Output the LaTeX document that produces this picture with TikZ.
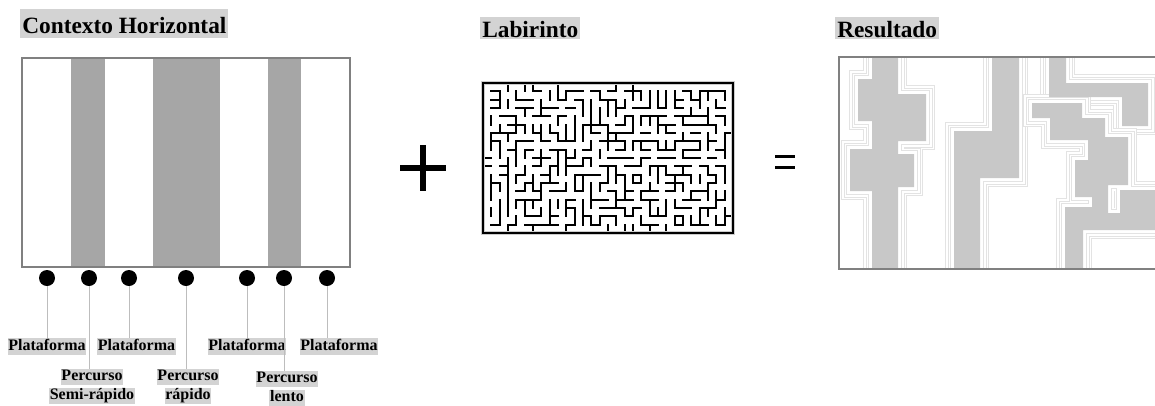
\documentclass[tikz,border=0pt]{standalone}
\usepackage{fontspec}
\setmainfont{Liberation Serif}
\usepackage{tikz}
\usetikzlibrary{calc}
\definecolor{realce}{HTML}{D3D3D3}
\definecolor{faixacor}{HTML}{A6A6A6}
\definecolor{moldura}{HTML}{808080}
\definecolor{mancha}{HTML}{C8C8C8}
\definecolor{halocor}{HTML}{E3E3E3}
\definecolor{hastecor}{HTML}{BDBDBD}
\newcommand{\marca}[1]{{\setlength{\fboxsep}{0.5pt}\colorbox{realce}{\rule[-3pt]{0pt}{10.5pt}#1}}}
\newcommand{\contorno}[1]{%
  \draw[halocor, line width=13.5pt] #1;
  \draw[white, line width=12pt] #1;
  \draw[halocor, line width=9.75pt] #1;
  \draw[white, line width=8.25pt] #1;
  \draw[halocor, line width=6pt] #1;
  \draw[white, line width=4.5pt] #1;}
\def\formaA{(872,57) -- (898,57) -- (898,94) -- (926,94) -- (926,141) -- (898,141) -- (898,154) -- (914,154) -- (914,187) -- (898,187) -- (898,272) -- (872,272) -- (872,191) -- (850,191) -- (850,149) -- (872,149) -- (872,121) -- (858,121) -- (858,79) -- (872,79) -- cycle}
\def\formaB{(992,57) -- (1019,57) -- (1019,178) -- (980,178) -- (980,272) -- (954,272) -- (954,131) -- (992,131) -- cycle}
\def\formaC{(1049,57) -- (1066,57) -- (1066,83) -- (1148,83) -- (1148,126) -- (1122,126) -- (1122,97) -- (1049,97) -- cycle}
\def\formaD{(1032,103) -- (1082,103) -- (1082,118) -- (1105,118) -- (1105,137) -- (1128,137) -- (1128,185) -- (1108,185) -- (1108,213) -- (1120,213) -- (1120,190) -- (1160,190) -- (1160,230) -- (1083,230) -- (1083,272) -- (1065,272) -- (1065,207) -- (1092,207) -- (1092,197) -- (1075,197) -- (1075,160) -- (1088,160) -- (1088,140) -- (1050,140) -- (1050,118) -- (1032,118) -- cycle}

\begin{document}
\begin{tikzpicture}[x=0.75pt,y=-0.75pt,
  titulo/.style={fill=realce, font=\bfseries\fontsize{17.5}{20}\selectfont, inner xsep=1.5pt, inner ysep=1pt, text height=14pt, text depth=0.5pt, anchor=base west},
  rotulo/.style={font=\bfseries\fontsize{12}{14.25}\selectfont, align=center, inner sep=0pt, anchor=north},
  ponto/.style={circle, fill=black, inner sep=0pt, minimum size=12pt},
  haste/.style={draw=hastecor, line width=0.75pt},
  parede/.style={line width=1.6pt, line cap=rect}]
\useasboundingbox (0,0) rectangle (1155,405);

\node[titulo, text height=17pt, text depth=2.75pt] (contexto) at (20,33) {Contexto Horizontal};
\node[titulo] (labirinto) at (480,37) {Labirinto};
\node[titulo] (resultado) at (835,37) {Resultado};

\fill[faixacor] (71,58) rectangle (105,267);
\fill[faixacor] (153,58) rectangle (220,267);
\fill[faixacor] (268,58) rectangle (301,267);
\draw[moldura, line width=1.5pt] (22,58) rectangle (350,267);

\foreach \x [count=\n] in {47,89,129,186,247,284,327}
  \node[ponto] (p\n) at (\x,278) {};

\node[rotulo] (l1) at (47,338) {\marca{Plataforma}};
\node[rotulo] (l2) at (92,369) {\marca{Percurso}\\\marca{Semi-rápido}};
\node[rotulo] (l3) at (136.5,338) {\marca{Plataforma}};
\node[rotulo] (l4) at (188,369) {\marca{Percurso}\\\marca{rápido}};
\node[rotulo] (l5) at (247,338) {\marca{Plataforma}};
\node[rotulo] (l6) at (287,371) {\marca{Percurso}\\\marca{lento}};
\node[rotulo] (l7) at (339,338) {\marca{Plataforma}};
\foreach \n in {1,...,7}
  \draw[haste] (p\n.south) -- (p\n.south |- l\n.north);

\draw[line width=4.9pt] (400,168) -- (446,168) (423,145) -- (423,191);

\begin{scope}[shift={(483,83)}, x=6.25pt, y=-6.25pt]
  \pgfmathsetseed{2024}
  \foreach \i in {1,...,29}{
    \foreach \j in {1,...,17}{
      \pgfmathrandominteger{\dir}{0}{3}
      \pgfmathsetmacro\ang{90*\dir}
      \draw[parede] (\i,\j) -- ++(\ang:1);
    }
  }
  \draw[gray!40, line width=2.5pt] (0,0) rectangle (30,18);
  \draw[parede] (0,0) rectangle (30,18);
\end{scope}

\draw[line width=2.25pt] (775,156) -- (795,156) (775,167) -- (795,167);

\begin{scope}
  \clip (839,57) rectangle (1155,269);
  \contorno{\formaA}
  \contorno{\formaB}
  \contorno{\formaC}
  \contorno{\formaD}
  \fill[mancha] \formaA;
  \fill[mancha] \formaB;
  \fill[mancha] \formaC;
  \fill[mancha] \formaD;
\end{scope}
\draw[moldura, line width=1.5pt] (1155,57) -- (839,57) -- (839,269) -- (1155,269);
\end{tikzpicture}
\end{document}
